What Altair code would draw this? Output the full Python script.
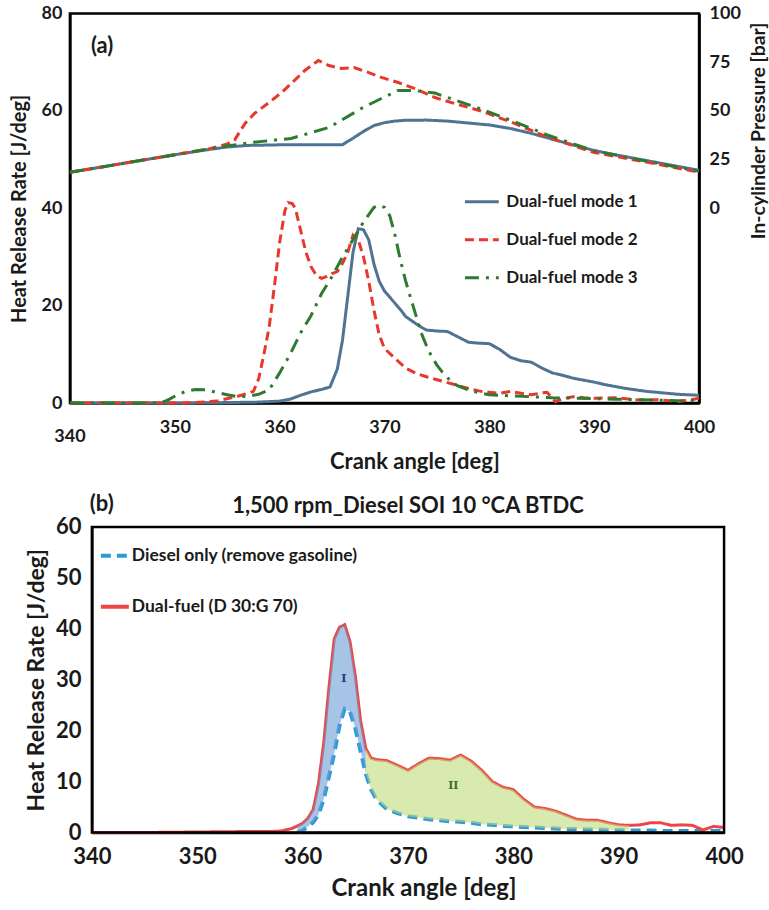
import altair as alt
import pandas as pd

FONT = "Lato"
INK = "#1a1a1a"

# ---------------- Panel (a): heat release rate [J/deg] ----------------
m1_x = [340, 350, 355, 358, 360, 361, 362, 363, 364, 364.8, 365.5, 366, 366.5, 367, 367.5, 368, 368.5, 369, 369.5, 370,
        371, 371.6, 372, 373, 373.5, 374, 375, 376, 377, 378, 379, 380, 381, 382, 383, 384, 385, 386, 387, 388,
        389, 390, 391, 392, 393, 394, 395, 396, 397, 398, 399, 400]
m1_hrr = [0, 0, 0.1, 0.2, 0.4, 0.8, 1.6, 2.3, 2.8, 3.3, 7, 13, 22, 31, 35.8, 35.6, 33.5, 28.5, 25, 23,
          20.5, 19, 17.8, 16.3, 15.6, 15, 14.8, 14.7, 13.6, 12.5, 12.3, 12.2, 11, 9.4, 8.7, 8.4, 7.2, 6.2, 5.7, 5.1,
          4.7, 4.3, 3.8, 3.4, 3.0, 2.7, 2.4, 2.2, 2.0, 1.8, 1.7, 1.6]

m2_x = [340, 345, 350, 352, 354, 356, 357, 357.5, 358, 358.5, 359, 359.5, 360, 360.5, 360.8, 361.2, 361.5, 362, 362.5, 363,
        363.5, 364, 364.5, 365, 365.5, 366, 366.5, 367, 367.5, 368, 368.5, 369, 369.5, 370, 371, 372, 373, 374, 375, 376,
        377, 378, 379, 380, 381, 382, 383, 384, 385, 385.5, 386.3, 387, 388, 389, 390, 392, 394, 395, 396, 398, 399, 400]
m2_hrr = [0, 0, 0, 0.1, 0.4, 1.4, 2, 2.4, 5, 10, 15.6, 24, 33, 39.5, 41.2, 41, 40, 35.5, 31, 28,
          26.2, 25.6, 26, 26.6, 27, 28.7, 31, 34.5, 33.5, 30, 25, 19, 14, 11.2, 9.2, 7.2, 6.1, 5.4, 4.8, 4.2,
          3.6, 3.0, 2.5, 2.2, 2.0, 2.4, 2.0, 1.7, 2.1, 2.2, 0.3, 0.9, 1.3, 1.1, 1.0, 1.1, 0.7, 0.6, 0.7, 0.3, 0.6, 1.0]

m3_x = [340, 348, 349, 349.5, 350, 351, 352, 353, 354, 355, 356, 357, 358, 359, 360, 361, 362, 363, 364, 365,
        366, 367, 368, 369, 369.5, 370, 370.5, 371, 371.5, 372, 372.5, 373, 373.5, 374, 374.5, 375, 375.5, 376, 376.5, 377,
        378, 379, 380, 382, 384, 386, 388, 390, 392, 394, 396, 398, 400]
m3_hrr = [0, 0, 0.3, 0.8, 1.4, 2.4, 2.8, 2.7, 2.2, 1.7, 1.3, 1.4, 1.8, 2.7, 6.2, 10, 14.4, 18, 22.5, 26,
          30, 33.6, 37.2, 40.2, 40.6, 40.2, 38.5, 34.5, 29.5, 25.2, 21.5, 18, 14.4, 11.8, 9.5, 7.8, 6.4, 5.2, 4.2, 3.5,
          2.7, 2.1, 1.7, 1.5, 1.3, 1.1, 1.0, 0.9, 0.8, 0.7, 0.6, 0.5, 0.5]

# ---------------- Panel (a): in-cylinder pressure [bar] ----------------
p1_x = [340, 345, 350, 353, 355, 357, 360, 363, 366, 367, 368, 369, 370, 371, 372, 374, 376, 378, 380, 382,
        384, 386, 388, 390, 392, 394, 396, 398, 400]
p1 = [18.5, 23, 27.5, 30, 31.5, 32.3, 32.6, 32.6, 32.7, 36, 39.5, 42.5, 44, 44.8, 45.2, 45.3, 44.8, 43.8, 42.8, 41,
      38.5, 35.5, 32.5, 29.7, 27.5, 25.5, 23.5, 21.5, 19.5]

p2_x = [340, 345, 350, 353, 355, 355.7, 356.7, 357.6, 359, 360.2, 361.4, 362.4, 363.7, 364.7, 365.9, 367.1, 368.5, 369.7,
        371.3, 372.9, 374.8, 376.7, 379.2, 382.4, 385.6, 390, 395.1, 400]
p2 = [18.5, 23, 27.5, 30.2, 33, 35, 43.6, 48.7, 54.4, 59.5, 65.6, 70.8, 75.9, 73.3, 71.8, 72.3, 69.7, 67.2,
      64.6, 61.5, 56.9, 53.8, 50, 43.6, 36.4, 28.7, 23.6, 18.5]

p3_x = [340, 345, 350, 353, 355, 357.3, 361.1, 364.7, 367.8, 369.7, 371.3, 372.9, 374.8, 376.7, 379.2, 382.4, 385.6,
        390, 395, 400]
p3 = [18.5, 23, 27.5, 30.3, 32, 33.8, 35.9, 41.5, 51.3, 56.4, 60.5, 60.5, 59.2, 55.6, 51, 44.5, 37.5,
      29.5, 24.2, 19]

modes = ["Dual-fuel mode 1", "Dual-fuel mode 2", "Dual-fuel mode 3"]
mode_colors = ["#4f7393", "#e8372c", "#2e7a2e"]
mode_dashes = [[1, 0], [9, 5], [14, 7, 3, 7]]

# ---------------- Panel (b) ----------------
b_x = [340, 345, 350, 355, 357, 358, 359, 359.5, 360, 360.5, 361, 361.5, 362, 362.5, 363, 363.5, 364, 364.5, 365, 365.5,
       366, 366.5, 367, 368, 369, 370, 371, 372, 373, 374, 375, 376, 377, 378, 379, 380, 381, 382, 383, 384,
       385, 386, 387, 388, 389, 390, 391, 392, 393, 394, 395, 396, 397, 398, 399, 400]
dual = [0, 0, 0.1, 0.2, 0.2, 0.3, 0.8, 1.3, 1.8, 2.8, 4.5, 9.5, 17.5, 28.5, 38, 40.3, 40.8, 37.5, 30.8, 22,
        16.5, 14.6, 14.3, 14.1, 13.2, 12.2, 13.5, 14.6, 14.5, 14.2, 15.2, 14.0, 12.2, 10, 8.9, 8.4, 6.5, 5.0, 4.7, 4.2,
        3.4, 2.6, 2.4, 2.4, 1.9, 1.5, 1.4, 1.5, 1.9, 1.9, 1.4, 1.5, 1.4, 0.5, 1.2, 1.0]
diesel = [None, None, None, None, None, None, None, 0, 0.4, 1.2, 2.0, 3.5, 6.5, 11, 15.5, 21, 24.3, 23.7, 20.5, 16,
          11.5, 8.5, 6.5, 4.6, 3.8, 3.2, 2.9, 2.6, 2.4, 2.2, 2.1, 1.9, 1.6, 1.5, 1.3, 1.2, 1.1, 1.0, 0.9, 0.8,
          0.7, 0.7, 0.6, 0.6, 0.5, 0.5, 0.4, 0.4, 0.4, 0.3, 0.3, 0.3, 0.3, 0.3, 0.3, 0.3]
b_series = ["Diesel only (remove gasoline)", "Dual-fuel (D 30:G 70)"]
b_colors = ["#2f9ad8", "#ee4646"]
b_dashes = [[10, 6], [1, 0]]
region_I = [359.5, 366]
region_II = [366, 391]

# ---------------- tables ----------------
hrr_a = pd.concat([
    pd.DataFrame({"crank": xs, "hrr": ys, "mode": n})
    for xs, ys, n in [(m1_x, m1_hrr, modes[0]), (m2_x, m2_hrr, modes[1]), (m3_x, m3_hrr, modes[2])]
])
pres_a = pd.concat([
    pd.DataFrame({"crank": xs, "pressure": ys, "mode": n})
    for xs, ys, n in [(p1_x, p1, modes[0]), (p2_x, p2, modes[1]), (p3_x, p3, modes[2])]
])
wide_b = pd.DataFrame({"crank": b_x, "dual": dual, "diesel": diesel})
long_b = pd.concat([
    pd.DataFrame({"crank": b_x, "hrr": diesel, "series": b_series[0]}),
    pd.DataFrame({"crank": b_x, "hrr": dual, "series": b_series[1]}),
]).dropna()
fill_b = wide_b.dropna()

axis_common = dict(ticks=False, grid=False, domainColor="black", domainWidth=2.5, labelFlush=False,
                   labelFont=FONT, labelFontWeight="bold", labelColor=INK,
                   titleFont=FONT, titleFontWeight="bold", titleColor=INK)

# ---------------- panel (a) ----------------
W_A, H_A = 630, 390
x_axis_a = alt.Axis(values=[340, 350, 360, 370, 380, 390, 400], title="Crank angle [deg]",
                    labelExpr="datum.value == 340 ? '' : datum.label", labelFontSize=18, labelPadding=15,
                    titleFontSize=22, titleX=345, titleY=59, titleBaseline="middle", **axis_common)
y_axis_a = alt.Axis(values=[0, 20, 40, 60, 80], title="Heat Release Rate [J/deg]", labelFontSize=18,
                    labelPadding=8, titleFontSize=20, titleAngle=270, titleX=-50, titleY=195,
                    titleAlign="center", titleBaseline="middle", **axis_common)
p_axis_a = alt.Axis(orient="right", values=[0, 25, 50, 75, 100], title="In-cylinder Pressure [bar]",
                    labelFontSize=18, labelPadding=10, titleFontSize=19.5, titleAngle=270, titleX=59,
                    titleY=117, titleAlign="center", titleBaseline="middle", **axis_common)

X_A = alt.X("crank:Q", scale=alt.Scale(domain=[340, 400], nice=False, zero=False), axis=x_axis_a)
Y_A = alt.Y("hrr:Q", scale=alt.Scale(domain=[0, 80], nice=False), axis=y_axis_a)
P_A = alt.Y("pressure:Q", scale=alt.Scale(domain=[-100, 100], nice=False), axis=p_axis_a)

leg_a = alt.Legend(orient="none", legendX=394, legendY=170, title=None, padding=0,
                   symbolType="stroke", symbolSize=1150, symbolStrokeWidth=3, rowPadding=11,
                   labelOffset=6, labelFont=FONT, labelFontSize=17, labelFontWeight="bold",
                   labelColor=INK, labelLimit=400)
col_a = alt.Color("mode:N", scale=alt.Scale(domain=modes, range=mode_colors), legend=leg_a)
dash_a = alt.StrokeDash("mode:N", scale=alt.Scale(domain=modes, range=mode_dashes), legend=leg_a)

hrr_lines = alt.Chart(hrr_a).mark_line(strokeWidth=3).encode(
    x=X_A, y=Y_A, color=col_a, strokeDash=dash_a, detail="mode:N")

lbl_a = alt.Chart(pd.DataFrame({"crank": [342], "hrr": [73.4], "t": ["(a)"]})).mark_text(
    align="left", baseline="middle", font=FONT, fontSize=22, fontWeight="bold", color=INK
).encode(x=X_A, y=Y_A, text="t:N")

lbl_340 = alt.Chart(pd.DataFrame({"crank": [340], "hrr": [-7.0], "t": ["340"]})).mark_text(
    align="center", baseline="middle", font=FONT, fontSize=18, fontWeight="bold", color=INK
).encode(x=X_A, y=Y_A, text="t:N")

hrr_layer = alt.layer(hrr_lines, lbl_a, lbl_340)

pres_lines = alt.Chart(pres_a).mark_line(strokeWidth=3).encode(
    x=X_A, y=P_A, color=col_a, strokeDash=dash_a, detail="mode:N")

panel_a = alt.layer(hrr_layer, pres_lines).resolve_scale(y="independent").properties(width=W_A, height=H_A)

# ---------------- panel (b) ----------------
# panel (b)'s plot sits 22 px further right than panel (a)'s: the group is widened and the
# x range starts at SHIFT_B
SHIFT_B = 22
W_B, H_B = 633, 306
x_axis_b = alt.Axis(values=[340, 350, 360, 370, 380, 390, 400], title="Crank angle [deg]",
                    labelFontSize=22, labelPadding=14, titleFontSize=24, titleX=354, titleY=56,
                    titleBaseline="middle", **axis_common)
y_axis_b = alt.Axis(values=[0, 10, 20, 30, 40, 50, 60], title="Heat Release Rate [J/deg]",
                    labelFontSize=22, labelPadding=11, titleFontSize=23, titleAngle=270, titleX=-55,
                    titleY=153, titleAlign="center", titleBaseline="middle", offset=-SHIFT_B, **axis_common)
X_B_SCALE = alt.Scale(domain=[340, 400], nice=False, zero=False, range=[SHIFT_B, SHIFT_B + W_B])
X_B = alt.X("crank:Q", scale=X_B_SCALE, axis=x_axis_b)
Y_B_SCALE = alt.Scale(domain=[0, 60], nice=False)
Y_B = alt.Y("hrr:Q", scale=Y_B_SCALE, axis=y_axis_b)

leg_b = alt.Legend(orient="none", legendX=SHIFT_B + 7, legendY=13, title=None, padding=0,
                   symbolType="stroke", symbolSize=784, symbolStrokeWidth=4, rowPadding=26,
                   labelOffset=1, labelFont=FONT, labelFontSize=17.5, labelFontWeight="bold",
                   labelColor=INK, labelLimit=400)
col_b = alt.Color("series:N", scale=alt.Scale(domain=b_series, range=b_colors), legend=leg_b)
dash_b = alt.StrokeDash("series:N", scale=alt.Scale(domain=b_series, range=b_dashes), legend=leg_b)

lines_b = alt.Chart(long_b).mark_line().encode(
    x=X_B, y=Y_B, color=col_b, strokeDash=dash_b, detail="series:N",
    strokeWidth=alt.StrokeWidth("series:N", scale=alt.Scale(domain=b_series, range=[4, 3]), legend=None),
)

fill_I = alt.Chart(fill_b).transform_filter(
    (alt.datum.crank >= region_I[0]) & (alt.datum.crank <= region_I[1])
).mark_area(color="#6a9fd6", opacity=0.6).encode(
    x=X_B, y=alt.Y("dual:Q", scale=Y_B_SCALE, axis=y_axis_b), y2="diesel:Q")
fill_II = alt.Chart(fill_b).transform_filter(
    (alt.datum.crank >= region_II[0]) & (alt.datum.crank <= region_II[1])
).mark_area(color="#bfdc7c", opacity=0.6).encode(
    x=X_B, y=alt.Y("dual:Q", scale=Y_B_SCALE, axis=y_axis_b), y2="diesel:Q")

roman = pd.DataFrame({"crank": [363.9, 374.3], "hrr": [30.2, 9.2], "t": ["I", "II"],
                      "c": ["#1f3b78", "#3f6d1e"]})
roman_txt = alt.Chart(roman).mark_text(font="DejaVu Serif", fontSize=11, fontWeight="bold",
                                       baseline="middle").encode(
    x=X_B, y=Y_B, text="t:N", color=alt.Color("c:N", scale=None, legend=None))

title_b = alt.Chart(pd.DataFrame({"crank": [370.0], "hrr": [64.1], "t": ["1,500 rpm_Diesel SOI 10 °CA BTDC"]})).mark_text(
    align="center", baseline="middle", font=FONT, fontSize=22, fontWeight="bold", color=INK
).encode(x=X_B, y=Y_B, text="t:N")

lbl_b = alt.Chart(pd.DataFrame({"crank": [339.8], "hrr": [64.5], "t": ["(b)"]})).mark_text(
    align="left", baseline="middle", font=FONT, fontSize=22, fontWeight="bold", color=INK
).encode(x=X_B, y=Y_B, text="t:N")

# frame of panel (b)'s plot area, drawn through its own scales
frame_b = alt.Chart(pd.DataFrame({"k": [0]})).mark_rect(
    fillOpacity=0, stroke="black", strokeWidth=2.5
).encode(
    x=alt.X(datum=340, scale=X_B_SCALE, axis=x_axis_b), x2=alt.X2(datum=400),
    y=alt.Y(datum=0, scale=Y_B_SCALE, axis=y_axis_b), y2=alt.Y2(datum=60),
)

panel_b = alt.layer(lines_b, fill_I, fill_II, roman_txt, title_b, lbl_b, frame_b).properties(
    width=SHIFT_B + W_B, height=H_B, view=alt.ViewBackground(stroke="transparent"))

chart = alt.vconcat(panel_a, panel_b, spacing=16).resolve_scale(
    color="independent", strokeDash="independent", x="independent"
).resolve_legend(color="independent", strokeDash="independent").properties(
    padding={"left": 8, "top": 2, "right": 0, "bottom": 5}
).configure_view(stroke="black", strokeWidth=2.5)

chart.save("out.html", embed_options={"renderer": "svg", "actions": False})
